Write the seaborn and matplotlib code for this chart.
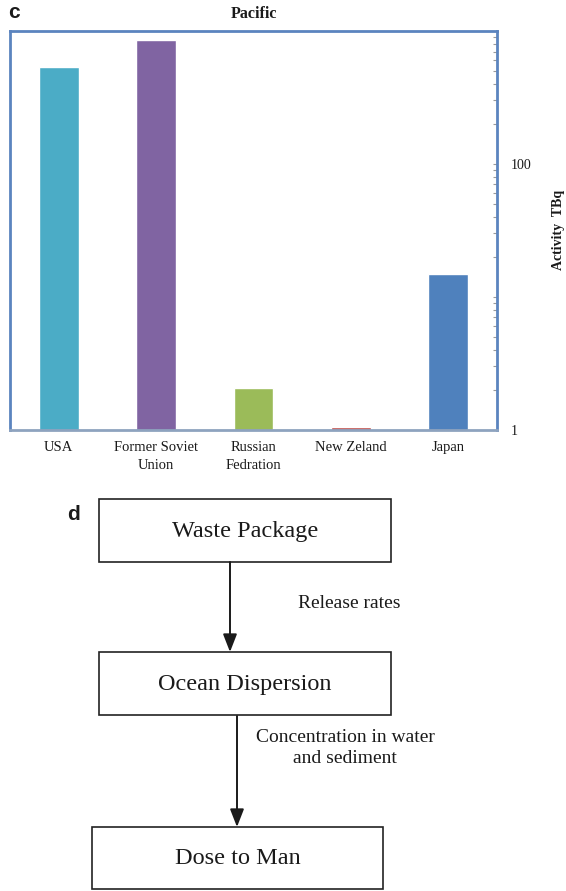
import matplotlib
matplotlib.use("Agg")
import matplotlib.pyplot as plt
import matplotlib.ticker as mticker
from matplotlib.patches import Rectangle
import seaborn as sns
import pandas as pd

# Activity of radioactive waste dumped in the Pacific, by country (TBq)
countries = ["USA", "Former Soviet\nUnion", "Russian\nFedration", "New Zeland", "Japan"]
activity = [540, 850, 2.05, 1.05, 14.8]
bar_colors = ["#4BACC6", "#8064A2", "#9BBB59", "#C0504D", "#4F81BD"]

# Flowchart steps and transitions
steps = ["Waste Package", "Ocean Dispersion", "Dose to Man"]
transitions = ["Release rates", "Concentration in water\nand sediment"]

sns.set_theme(style="white")
plt.rcParams["font.family"] = ["Liberation Serif", "DejaVu Serif"]

W, H = 566, 891
fig = plt.figure(figsize=(W / 100, H / 100), dpi=100)

# ---- flowchart layer (pixel coordinates) ----
fa = fig.add_axes([0, 0, 1, 1])
fa.set_xlim(0, W)
fa.set_ylim(H, 0)
fa.axis("off")
fa.patch.set_alpha(0)

boxes = [(99, 499, 292, 63), (99, 652, 292, 63), (92, 827, 291, 62)]
for (x, y, w, h), label in zip(boxes, steps):
    fa.add_patch(Rectangle((x, y), w, h, fill=False, ec="#222222", lw=1.2))
    fa.text(x + w / 2, y + h / 2 + 1, label, ha="center", va="center",
            fontsize=17.5, color="#1a1a1a")

arrows = [(230, 562, 652), (237, 716, 827)]
for x, y0, y1 in arrows:
    fa.annotate("", xy=(x, y1), xytext=(x, y0),
                arrowprops=dict(arrowstyle="-|>,head_length=0.9,head_width=0.35",
                                color="#1a1a1a", lw=1.4, shrinkA=0, shrinkB=0))

fa.text(349, 603, transitions[0], ha="center", va="center", fontsize=14, color="#1a1a1a")
fa.text(345, 748, transitions[1], ha="center", va="center", fontsize=14,
        color="#1a1a1a", linespacing=1.3)
fa.text(74, 515, "d", ha="center", va="center", fontsize=15, fontweight="bold",
        family=["Liberation Sans", "DejaVu Sans"], color="#1a1a1a")

# ---- bar chart ----
ax = fig.add_axes([10 / W, 1 - 429.5 / H, 487 / W, (429.5 - 31) / H])
df = pd.DataFrame({"country": countries, "activity": activity})
sns.barplot(data=df, x="country", y="activity", hue="country", palette=bar_colors,
            width=0.41, legend=False, ax=ax, saturation=1)
ax.set_yscale("log")
ax.set_ylim(1, 1000)
ax.set_xlim(-0.5, 4.5)

ax.yaxis.tick_right()
ax.yaxis.set_label_position("right")
ax.yaxis.set_major_locator(mticker.FixedLocator([1, 10, 100, 1000]))
ax.yaxis.set_major_formatter(mticker.FuncFormatter(
    lambda v, p: f"{int(round(v))}" if round(v) in (1, 100) else ""))
ax.yaxis.set_minor_locator(mticker.LogLocator(base=10, subs=range(2, 10)))
ax.yaxis.set_minor_formatter(mticker.NullFormatter())
ax.tick_params(axis="y", which="both", direction="in", right=True, left=False,
               length=3, width=0.8, color="#9a9a9a", labelsize=10, pad=10,
               labelcolor="#1a1a1a")
ax.tick_params(axis="x", bottom=False, labelsize=10.5, pad=2, labelcolor="#1a1a1a")
for lab in ax.get_xticklabels():
    lab.set_linespacing(1.5)

ax.set_xlabel("")
ax.set_ylabel("Activity  TBq", fontsize=10, fontweight="bold", color="#1a1a1a")
ax.yaxis.set_label_coords(1.113, 0.5)
ax.set_title("Pacific", fontsize=11.5, fontweight="bold", color="#1a1a1a", pad=9)

for side, sp in ax.spines.items():
    sp.set_visible(True)
    sp.set_color("#5B84BF")
    sp.set_linewidth(2.0)
ax.spines["bottom"].set_color("#8EA3BF")

fig.text(14 / W, 1 - 13 / H, "c", ha="center", va="center", fontsize=15,
         fontweight="bold", family=["Liberation Sans", "DejaVu Sans"], color="#1a1a1a")

fig.savefig("out.png", dpi=100)
